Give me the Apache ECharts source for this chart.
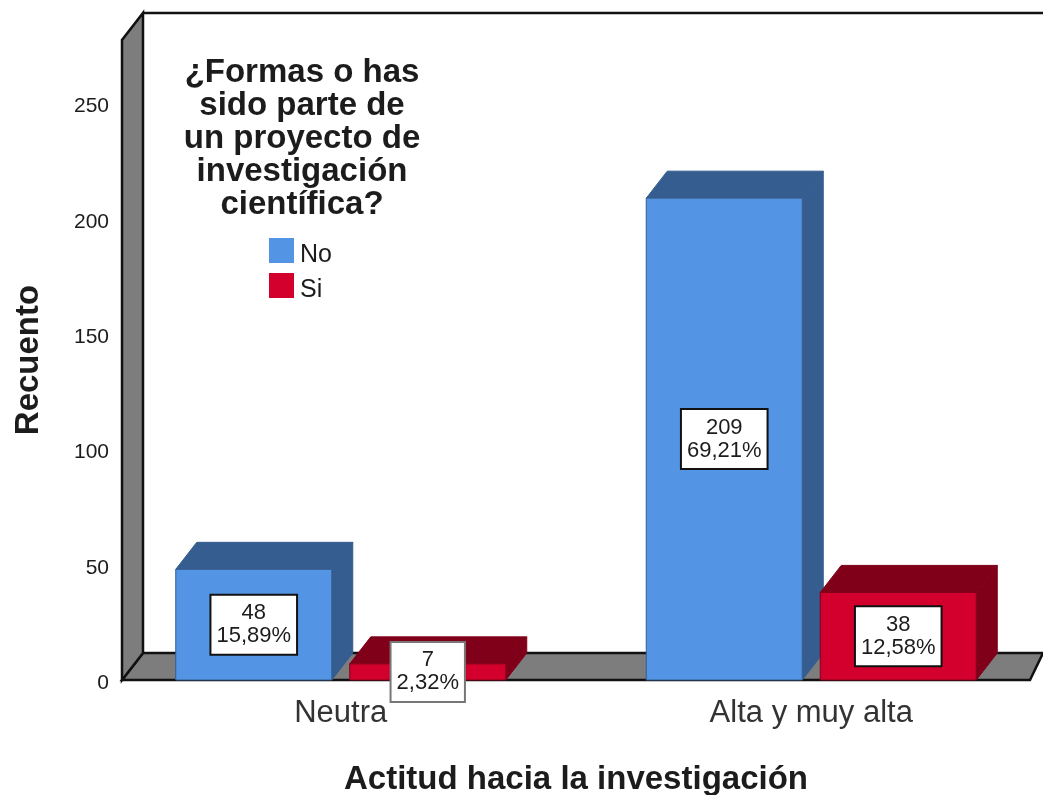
<!DOCTYPE html>
<html>
<head>
<meta charset="utf-8">
<title>Actitud hacia la investigación</title>
<script src="https://cdn.jsdelivr.net/npm/echarts@6/dist/echarts.min.js"></script>
<style>
	html, body { margin: 0; padding: 0; background: #fff; }
	#main { width: 1043px; height: 795px; }
</style>
</head>
<body>
<div id="main"></div>
<script>
// datos
var categories = ["Neutra", "Alta y muy alta"];
var noValues = [48, 209];
var siValues = [7, 38];
var noPercent = ["15,89%", "69,21%"];
var siPercent = ["2,32%", "12,58%"];
var legendTitle = "¿Formas o has\nsido parte de\nun proyecto de\ninvestigación\ncientífica?";

var FONT = "Liberation Sans";
var TEXT = "#1c1c1c";
var AXIS_MAX = 277.6;
var DEPTH_X = 21, DEPTH_Y = 27; // profundidad del efecto 3D
var BAR_W = 156, BAR_OFFSET = 87;
var WALL = "#7d7d7d";

// paredes y suelo
function renderFrame(params, api) {
	var y0 = api.coord([0, 0])[1];
	var yTop = api.coord([0, AXIS_MAX])[1];
	var left = 122, right = 1030, backRight = 1043;
	var edge = { fill: WALL, stroke: "#111", lineWidth: 2.5 };
	return {
		type: "group",
		children: [
			{ type: "polygon", shape: { points: [[left, y0], [left + DEPTH_X, y0 - DEPTH_Y], [backRight, y0 - DEPTH_Y], [right, y0]] }, style: edge },
			{ type: "polygon", shape: { points: [[left, y0], [left, yTop], [left + DEPTH_X, yTop - DEPTH_Y], [left + DEPTH_X, y0 - DEPTH_Y]] }, style: edge },
			{ type: "line", shape: { x1: left + DEPTH_X, y1: yTop - DEPTH_Y, x2: backRight, y2: yTop - DEPTH_Y }, style: { stroke: "#111", lineWidth: 2.5 } }
		]
	};
}

// barra 3D con su etiqueta
function barRenderer(offset, front, dark, percents) {
	return function (params, api) {
		var top = api.coord([api.value(0), api.value(1)]);
		var base = api.coord([api.value(0), 0]);
		var x1 = top[0] + offset - BAR_W / 2, x2 = x1 + BAR_W;
		var y1 = top[1], y2 = base[1];
		var side = { fill: dark, stroke: dark, lineWidth: 1 };
		return {
			type: "group",
			children: [
				{ type: "polygon", shape: { points: [[x1, y1], [x1 + DEPTH_X, y1 - DEPTH_Y], [x2 + DEPTH_X, y1 - DEPTH_Y], [x2, y1]] }, style: side },
				{ type: "polygon", shape: { points: [[x2, y1], [x2 + DEPTH_X, y1 - DEPTH_Y], [x2 + DEPTH_X, y2 - DEPTH_Y], [x2, y2]] }, style: side },
				{ type: "rect", shape: { x: x1, y: y1, width: BAR_W, height: y2 - y1 }, style: { fill: front, stroke: dark, lineWidth: 1 } },
				{
					type: "text",
					z2: 10,
					style: {
						text: api.value(1) + "\n" + percents[params.dataIndex],
						x: (x1 + x2) / 2,
						y: (y1 + y2) / 2,
						align: "center",
						verticalAlign: "middle",
						font: "22px '" + FONT + "'",
						fill: TEXT,
						lineHeight: 23,
						backgroundColor: "#fff",
						borderColor: api.value(1) < 10 ? "#777" : "#111",
						borderWidth: 2,
						padding: [6, 5, 6, 5]
					}
				}
			]
		};
	};
}

function toPairs(values) {
	var out = [];
	for (var i = 0; i < values.length; i++) {
		out.push([i, values[i]]);
	}
	return out;
}

var myChart = echarts.init(document.getElementById("main"));
var option = {
	animation: false,
	backgroundColor: "#fff",
	title: {
		text: legendTitle,
		left: 297,
		top: 51,
		textAlign: "center",
		textStyle: { fontFamily: FONT, fontSize: 33, fontWeight: "bold", color: TEXT, lineHeight: 33 }
	},
	legend: {
		data: ["No", "Si"],
		orient: "vertical",
		left: 269,
		top: 238,
		padding: 0,
		itemWidth: 25,
		itemHeight: 25,
		itemGap: 5,
		icon: "rect",
		formatter: function (name) {
			return "{t|" + name + "}";
		},
		textStyle: {
			rich: { t: { fontFamily: FONT, fontSize: 25, color: TEXT, padding: [10, 0, 0, 1] } }
		}
	},
	grid: { left: 105.5, width: 941, top: 40, height: 640, outerBoundsMode: "none" },
	xAxis: {
		type: "category",
		data: categories,
		name: "Actitud hacia la investigación",
		nameLocation: "middle",
		nameGap: 83,
		nameTextStyle: { fontFamily: FONT, fontSize: 33, fontWeight: "bold", color: TEXT },
		axisLine: { show: false },
		axisTick: { show: false },
		axisLabel: { fontFamily: FONT, fontSize: 31, color: "#333", margin: 18 }
	},
	yAxis: {
		type: "value",
		min: 0,
		max: AXIS_MAX,
		interval: 50,
		offset: -17.5,
		name: "Recuento",
		nameLocation: "middle",
		nameGap: 78,
		nameTextStyle: { fontFamily: FONT, fontSize: 33, fontWeight: "bold", color: TEXT },
		axisLine: { show: false },
		axisTick: { show: false },
		splitLine: { show: false },
		axisLabel: { fontFamily: FONT, fontSize: 21, color: TEXT, margin: 14, showMaxLabel: false, verticalAlign: "top", lineHeight: 6 }
	},
	series: [
		{ name: "frame", type: "custom", data: [[0, 0]], renderItem: renderFrame, encode: { x: 0, y: 1 }, z: 1, silent: true },
		{ name: "No", type: "custom", data: toPairs(noValues), encode: { x: 0, y: 1 }, z: 2, itemStyle: { color: "#5394e4" }, renderItem: barRenderer(-BAR_OFFSET, "#5394e4", "#355d8f", noPercent) },
		{ name: "Si", type: "custom", data: toPairs(siValues), encode: { x: 0, y: 1 }, z: 3, itemStyle: { color: "#d3002e" }, renderItem: barRenderer(BAR_OFFSET, "#d3002e", "#80001a", siPercent) }
	]
};
myChart.setOption(option);
</script>
</body>
</html>
